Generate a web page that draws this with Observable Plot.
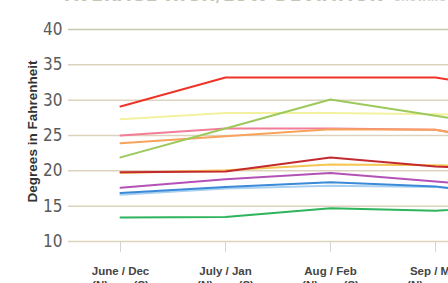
<!DOCTYPE html>
<html>
<head>
<meta charset="utf-8">
<script src="https://cdn.jsdelivr.net/npm/d3@7"></script>
<script src="https://cdn.jsdelivr.net/npm/@observablehq/plot@0.6"></script>
<style>
  html, body { margin: 0; padding: 0; background: #fff; overflow: hidden; width: 448px; height: 283px; }
  #wrap { position: relative; width: 448px; height: 283px; overflow: hidden; }
  #title { position: absolute; left: 65px; top: -16px; white-space: nowrap; z-index: 2;
    font-family: "Liberation Sans Narrow", "DejaVu Sans Condensed", sans-serif; font-weight: bold;
    font-size: 19px; line-height: 20px; color: #c3c6b4; letter-spacing: 0.6px; }
  #title span { font-size: 10px; color: #d0d0c8; margin-left: 10px; letter-spacing: 0.3px; }
  #chart { position: absolute; left: 0; top: 0; }
</style>
</head>
<body>
<div id="wrap">
  <div id="title">AVERAGE HIGH/LOW DEVIATION<span>SHOWING AVERAGE</span></div>
  <div id="chart"></div>
</div>
<script>
const months = ["June / Dec", "July / Jan", "Aug / Feb", "Sep / Mar", "Oct / Apr"];
const yTicks = [10, 15, 20, 25, 30, 35, 40];

const red        = [29.1, 33.2, 33.2, 33.2, 31.0];
const paleYellow = [27.3, 28.2, 28.2, 28.0, 27.8];
const pink       = [25.0, 26.0, 26.0, 25.8, 23.5];
const orange     = [23.9, 24.9, 25.9, 25.8, 23.0];
const lightGreen = [21.9, 26.0, 30.1, 27.8, 25.3];
const gold       = [19.7, 20.1, 20.9, 20.8, 20.5];
const darkRed    = [19.8, 19.9, 21.9, 20.6, 20.0];
const purple     = [17.6, 18.8, 19.7, 18.5, 17.2];
const lightBlue  = [16.6, 17.5, 17.9, 17.7, 16.6];
const blue       = [16.85, 17.7, 18.4, 17.8, 15.8];
const green      = [13.4, 13.45, 14.7, 14.35, 15.3];

const seriesNames = ["paleYellow","pink","orange","lightGreen","gold","darkRed","purple","lightBlue","blue","green","red"];
const seriesVals = {red, paleYellow, pink, orange, lightGreen, gold, darkRed, purple, lightBlue, blue, green};
const seriesColors = {
  red: "#ee3427", paleYellow: "#f3f1a0", pink: "#f17d98", orange: "#f7a35c",
  lightGreen: "#9cc95c", gold: "#f6c653", darkRed: "#c32a30", purple: "#b352b6",
  lightBlue: "#a9d0f1", blue: "#3a8ad8", green: "#2fb45e"
};

const rows = [];
for (const s of seriesNames) {
  seriesVals[s].forEach((v, i) => rows.push({series: s, month: months[i], value: v}));
}

const secondLine = "(N)        (S)";

const chart = Plot.plot({
  width: 448,
  height: 300,
  marginLeft: 68,
  marginRight: 0,
  marginTop: 29,
  marginBottom: 59,
  style: {background: "transparent", overflow: "hidden"},
  x: {type: "point", domain: months, range: [118, 541], padding: 0},
  y: {domain: [10, 40]},
  color: {domain: seriesNames, range: seriesNames.map(s => seriesColors[s])},
  marks: [
    Plot.ruleY(yTicks.filter(t => t !== 40), {stroke: "#ddd3bd", strokeWidth: 1.5}),
    Plot.ruleY(yTicks.filter(t => t === 40), {stroke: "#c9c9b2", strokeWidth: 1.5}),
    Plot.axisY({ticks: yTicks, tickSize: 0, tickPadding: 6, label: null,
      fontSize: 17, fill: "#5a5a5a",
      fontFamily: "Liberation Sans Narrow, DejaVu Sans Condensed, sans-serif"}),
    Plot.axisX(months.slice(0, 4), {tickSize: 11, tickPadding: 12, label: null,
      stroke: "#d4d4d4", fontSize: 11.5, fontWeight: "bold", fill: "#444",
      fontFamily: "Liberation Sans, Arial, sans-serif",
      tickFormat: d => d + "\n" + secondLine, lineHeight: 1.25}),
    Plot.text(["Degrees in Fahrenheit"], {frameAnchor: "left", textAnchor: "middle", dx: -36, dy: -4, rotate: -90,
      fontSize: 13.5, fontWeight: "bold", fill: "#333",
      fontFamily: "Liberation Sans, Arial, sans-serif"}),
    Plot.line(rows, {x: "month", y: "value", z: "series", stroke: "series", strokeWidth: 2})
  ]
});
document.getElementById("chart").appendChild(chart);
</script>
</body>
</html>
